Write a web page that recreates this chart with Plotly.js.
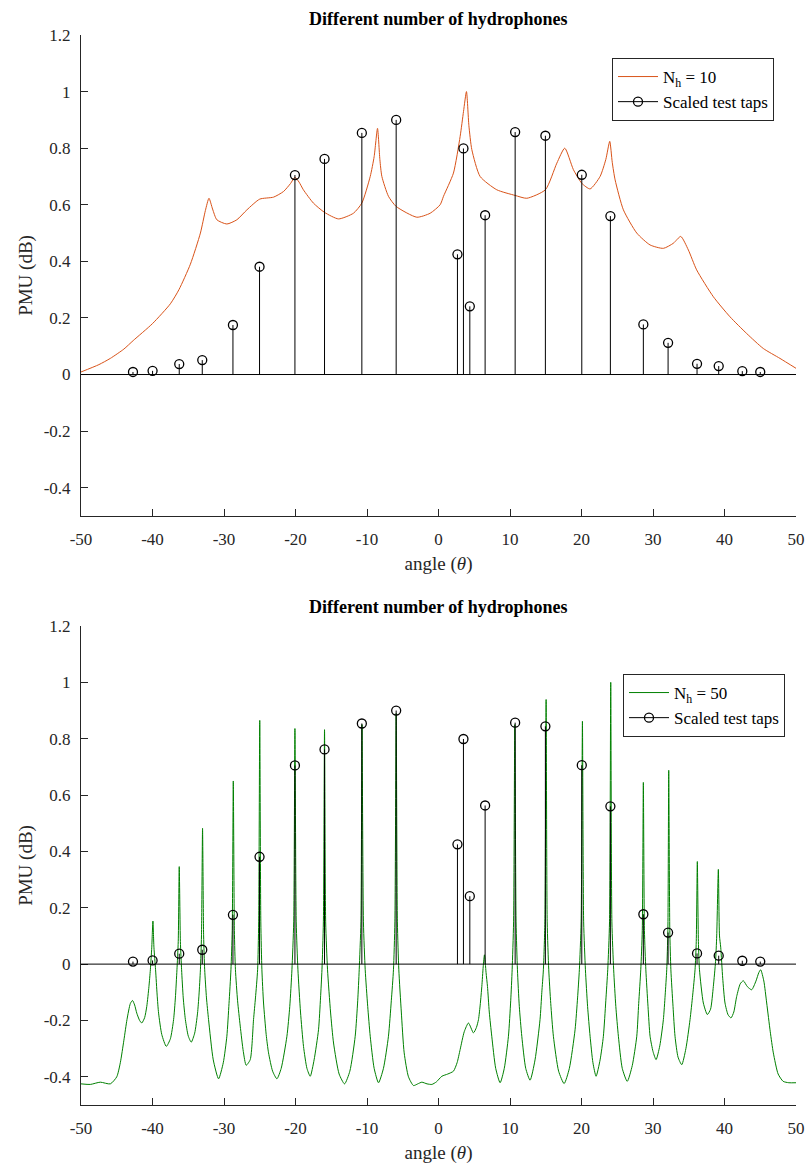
<!DOCTYPE html>
<html>
<head>
<meta charset="utf-8">
<script src="https://cdn.plot.ly/plotly-3.0.1.min.js"></script>
<style>html,body{margin:0;padding:0;background:#fff;}#chart{width:809px;height:1167px;}</style>
</head>
<body>
<div id="chart"></div>
<script>
// Scaled test taps (shared by both panels)
const stemX = [-42.73,-39.99,-36.26,-33.04,-28.75,-25.03,-20.08,-15.94,-10.72,-5.92,
               2.65,3.49,4.38,6.52,10.72,14.95,20.04,24.04,28.65,32.11,36.16,39.19,42.49,45.0];
const stemY = [0.009,0.013,0.037,0.051,0.175,0.381,0.705,0.762,0.854,0.900,
               0.425,0.799,0.241,0.563,0.857,0.844,0.706,0.560,0.177,0.112,0.038,0.030,0.012,0.009];

// N_h = 10 spectrum (top panel)
const nh10X = [-50,-47.5,-45.9,-44,-42.7,-40,-37.5,-36.3,-34.7,-33.3,-32.6,-32.1,-31.6,-31.0,-29.6,-28.2,-26.8,-25.0,
  -23.07,-21.67,-20.7,-20.08,-19.5,-18.9,-17.5,-15.94,-13.98,-11.9,-10.72,-9.55,-9.0,-8.53,-8.2,-7.92,-7.0,-5.92,
  -3.03,-1.17,0.23,0.70,2.09,3.03,3.5,3.91,4.25,4.66,5.82,8.15,10.72,12.35,14.95,16.55,17.66,18.87,20.04,21.2,22.6,
  23.4,23.95,24.3,24.7,25.86,27.73,29.59,31.45,32.85,33.88,34.95,36.1,38.44,40.77,43.1,45.43,47.76,50];
const nh10Y = [0.009,0.035,0.057,0.09,0.12,0.18,0.25,0.30,0.39,0.50,0.58,0.623,0.585,0.547,0.532,0.547,0.582,0.62,
  0.627,0.647,0.675,0.697,0.68,0.653,0.606,0.573,0.55,0.57,0.606,0.70,0.77,0.87,0.76,0.70,0.63,0.594,
  0.556,0.570,0.60,0.63,0.712,0.842,0.93,1.0,0.88,0.795,0.70,0.653,0.633,0.623,0.653,0.747,0.80,0.724,0.676,0.656,0.70,
  0.76,0.824,0.75,0.688,0.582,0.50,0.458,0.446,0.464,0.488,0.44,0.37,0.275,0.204,0.145,0.092,0.057,0.022];

// N_h = 50 spectrum (bottom panel)
const nh50X = [-50,-48.7,-47.3,-45.9,-45.0,-44.5,-44.0,-43.57,-43.1,-42.8,-42.5,-42.2,-41.8,-41.5,-41.1,-40.8,-40.5,-40.3,-40.1,-39.94,
  -39.8,-39.57,-39.35,-39.15,-38.7,-38.07,-37.5,-37.05,-36.8,-36.58,-36.4,-36.26,-36.1,-35.93,-35.7,-35.4,-35.0,-34.58,-34.1,-33.7,
  -33.5,-33.3,-33.15,-33.0,-32.85,-32.7,-32.45,-32.16,-31.5,-30.76,-30.1,-29.6,-29.3,-29.03,-28.85,-28.7,-28.55,-28.4,-28.1,-27.73,
  -27.3,-26.9,-26.33,-25.87,-25.6,-25.3,-25.15,-25.0,-24.85,-24.7,-24.47,-24.1,-23.77,-23.2,-22.6,-22.0,-21.2,-20.8,-20.5,-20.25,
  -20.08,-19.9,-19.66,-19.3,-18.88,-18.4,-17.94,-17.4,-16.78,-16.5,-16.3,-16.1,-15.94,-15.78,-15.52,-15.1,-14.68,-13.9,-13.14,-12.4,
  -11.65,-11.3,-11.09,-10.85,-10.7,-10.5,-10.25,-9.9,-9.55,-9.0,-8.39,-7.7,-7.0,-6.6,-6.3,-6.1,-5.92,-5.75,-5.55,-5.2,
  -4.8,-4.2,-3.5,-2.9,-2.33,-1.6,-0.93,-0.3,0.47,1.3,2.09,2.6,3.03,3.6,4.19,4.89,5.3,5.59,5.85,6.06,
  6.25,6.43,6.65,6.85,7.1,7.45,8.0,8.62,9.2,9.78,10.1,10.3,10.5,10.67,10.85,11.04,11.3,11.65,12.2,12.81,
  13.5,14.2,14.45,14.67,14.88,15.05,15.2,15.42,15.7,16.07,16.8,17.57,18.3,19.1,19.45,19.7,19.95,20.13,20.3,20.55,
  20.85,21.2,21.6,22.04,22.6,23.06,23.4,23.67,23.92,24.09,24.25,24.5,24.8,25.16,25.7,26.4,27.1,27.73,28.0,28.29,
  28.5,28.65,28.8,29.0,29.3,29.59,30.0,30.43,30.95,31.45,31.7,31.92,32.08,32.2,32.35,32.5,32.8,33.08,33.5,34.02,
  34.6,35.18,35.55,35.88,36.05,36.2,36.35,36.5,37.04,37.6,38.05,38.44,38.75,38.91,39.14,39.3,39.47,39.75,40.07,40.5,
  40.91,41.3,41.7,42.2,42.63,43.2,43.8,44.4,44.8,45.06,45.5,45.9,46.4,46.83,47.5,48.2,49.0,50];
const nh50Y = [-0.425,-0.427,-0.419,-0.425,-0.40,-0.35,-0.27,-0.197,-0.14,-0.129,-0.145,-0.174,-0.20,-0.209,-0.19,-0.15,-0.08,-0.02,0.06,0.153,
  0.06,-0.02,-0.11,-0.174,-0.25,-0.292,-0.265,-0.197,-0.12,-0.02,0.08,0.346,0.08,-0.02,-0.12,-0.197,-0.255,-0.277,-0.245,-0.174,
  -0.11,-0.02,0.10,0.482,0.10,-0.02,-0.12,-0.197,-0.34,-0.407,-0.35,-0.256,-0.14,-0.02,0.12,0.65,0.12,-0.02,-0.13,-0.22,
  -0.31,-0.359,-0.339,-0.197,-0.12,-0.02,0.15,0.865,0.15,-0.02,-0.138,-0.25,-0.315,-0.38,-0.407,-0.37,-0.256,-0.15,-0.02,0.15,
  0.836,0.15,-0.02,-0.17,-0.292,-0.37,-0.398,-0.34,-0.233,-0.12,-0.02,0.15,0.832,0.15,-0.02,-0.17,-0.28,-0.39,-0.425,-0.38,
  -0.256,-0.13,-0.02,0.15,0.85,0.15,-0.02,-0.15,-0.256,-0.37,-0.421,-0.37,-0.256,-0.13,-0.02,0.15,0.89,0.15,-0.02,-0.17,
  -0.315,-0.40,-0.431,-0.425,-0.419,-0.425,-0.427,-0.418,-0.398,-0.39,-0.38,-0.35,-0.303,-0.24,-0.209,-0.244,-0.225,-0.197,-0.14,-0.079,
  -0.01,0.033,-0.03,-0.079,-0.17,-0.256,-0.37,-0.421,-0.37,-0.256,-0.13,-0.02,0.15,0.85,0.15,-0.02,-0.15,-0.256,-0.37,-0.412,
  -0.34,-0.197,-0.10,-0.02,0.15,0.939,0.15,-0.02,-0.14,-0.256,-0.38,-0.424,-0.37,-0.233,-0.12,-0.02,0.15,0.862,0.15,-0.02,
  -0.15,-0.256,-0.35,-0.398,-0.34,-0.256,-0.13,-0.02,0.15,1.0,0.15,-0.02,-0.15,-0.256,-0.37,-0.416,-0.36,-0.256,-0.14,-0.02,
  0.12,0.645,0.12,-0.02,-0.15,-0.256,-0.31,-0.339,-0.29,-0.197,-0.11,-0.02,0.12,0.688,0.12,-0.02,-0.15,-0.256,-0.33,-0.357,
  -0.30,-0.197,-0.11,-0.02,0.08,0.364,0.08,-0.02,-0.138,-0.179,-0.16,-0.079,0.01,0.10,0.336,0.10,0.06,-0.05,-0.138,-0.18,
  -0.191,-0.17,-0.115,-0.07,-0.059,-0.08,-0.091,-0.06,-0.03,-0.02,-0.06,-0.138,-0.24,-0.315,-0.39,-0.416,-0.421,-0.421];

// Axis ticks
const xTicks = [-50,-40,-30,-20,-10,0,10,20,30,40,50];
const xTickText = ['-50','-40','-30','-20','-10','0','10','20','30','40','50'];
const yTicks = [-0.4,-0.2,0,0.2,0.4,0.6,0.8,1,1.2];
const yTickText = ['-0.4','-0.2','0','0.2','0.4','0.6','0.8','1','1.2'];

const titleText = 'Different number of hydrophones';
const labelNh10 = 'N<sub>h</sub> = 10';
const labelNh50 = 'N<sub>h</sub> = 50';
const labelTaps = 'Scaled test taps';

// build stem polylines from the tap arrays
const sx = [], sy = [];
stemX.forEach((x, i) => { sx.push(x, x, null); sy.push(0, stemY[i], null); });

const FONT = 'Liberation Serif';
const ORANGE = '#D95319';
const GREEN = '#008000';

function panel(xa, ya, lineX, lineY, color, label, legendName) {
  return [
    {x: lineX, y: lineY, xaxis: xa, yaxis: ya, type: 'scatter', mode: 'lines', name: label,
     line: {color: color, width: 1, shape: 'spline', smoothing: 0.6}, legend: legendName, showlegend: true},
    {x: sx, y: sy, xaxis: xa, yaxis: ya, type: 'scatter', mode: 'lines', showlegend: false,
     line: {color: '#000', width: 1}, hoverinfo: 'skip'},
    {x: stemX, y: stemY, xaxis: xa, yaxis: ya, type: 'scatter', mode: 'markers', showlegend: false,
     marker: {symbol: 'circle-open', size: 9, color: '#000', line: {width: 1.3, color: '#000'}}},
    {x: [null], y: [null], xaxis: xa, yaxis: ya, type: 'scatter', mode: 'lines+markers', name: labelTaps,
     line: {color: '#000', width: 1}, legend: legendName,
     marker: {symbol: 'circle-open', size: 9, color: '#000', line: {width: 1.3, color: '#000'}}}
  ];
}

const data = [].concat(
  panel('x', 'y', nh10X, nh10Y, ORANGE, labelNh10, 'legend'),
  panel('x2', 'y2', nh50X, nh50Y, GREEN, labelNh50, 'legend2')
);

const H = 1070;
function py(px) { return 1 - (px - 35) / H; }

const axisBase = {
  range: [-50, 50], tickvals: xTicks, ticktext: xTickText, ticks: 'inside', ticklen: 7, tickwidth: 1,
  tickcolor: '#262626', showline: true, linecolor: '#262626', linewidth: 1, showgrid: false, zeroline: false,
  tickfont: {family: FONT, size: 17, color: '#262626'}, ticklabelstandoff: 8, fixedrange: true
};
const yBase = {
  range: [-0.5, 1.2], tickvals: yTicks, ticktext: yTickText, ticks: 'inside', ticklen: 7, tickwidth: 1,
  tickcolor: '#262626', showline: true, linecolor: '#262626', linewidth: 1, showgrid: false, zeroline: false,
  tickfont: {family: FONT, size: 17, color: '#262626'}, ticklabelstandoff: 6, fixedrange: true
};
const xTitle = {text: 'angle (<i>θ</i>)', font: {family: FONT, size: 19, color: '#262626'}, standoff: 8};
const yTitle = {text: 'PMU (dB)', font: {family: FONT, size: 19, color: '#262626'}, standoff: 6};

const legendBase = {
  font: {family: FONT, size: 17, color: '#000'}, bgcolor: '#fff', bordercolor: '#262626', borderwidth: 1,
  xanchor: 'left', yanchor: 'top', itemwidth: 40, tracegroupgap: 0
};

const layout = {
  width: 809, height: 1167,
  margin: {l: 81, r: 13, t: 35, b: 62},
  paper_bgcolor: '#fff', plot_bgcolor: '#fff',
  showlegend: true,
  font: {family: FONT},
  xaxis: Object.assign({}, axisBase, {domain: [0, 1], anchor: 'y', title: xTitle}),
  yaxis: Object.assign({}, yBase, {domain: [py(516), 1], anchor: 'x', title: yTitle}),
  xaxis2: Object.assign({}, axisBase, {domain: [0, 1], anchor: 'y2', title: xTitle}),
  yaxis2: Object.assign({}, yBase, {domain: [0, py(626)], anchor: 'x2', title: yTitle}),
  legend: Object.assign({}, legendBase, {x: (612 - 81) / 715, y: py(58)}),
  legend2: Object.assign({}, legendBase, {x: (623 - 81) / 715, y: py(674)}),
  shapes: [
    {type: 'line', xref: 'x domain', yref: 'y', x0: 0, x1: 1, y0: 0, y1: 0, line: {color: '#000', width: 1}, layer: 'above'},
    {type: 'line', xref: 'x2 domain', yref: 'y2', x0: 0, x1: 1, y0: 0, y1: 0, line: {color: '#000', width: 1}, layer: 'above'}
  ],
  annotations: [
    {text: '<b>' + titleText + '</b>', xref: 'paper', yref: 'paper', x: 0.5, y: py(19), xanchor: 'center', yanchor: 'middle',
     showarrow: false, font: {family: FONT, size: 18, color: '#000'}},
    {text: '<b>' + titleText + '</b>', xref: 'paper', yref: 'paper', x: 0.5, y: py(607), xanchor: 'center', yanchor: 'middle',
     showarrow: false, font: {family: FONT, size: 18, color: '#000'}}
  ]
};

Plotly.newPlot('chart', data, layout, {staticPlot: true, displayModeBar: false});
</script>
</body>
</html>
